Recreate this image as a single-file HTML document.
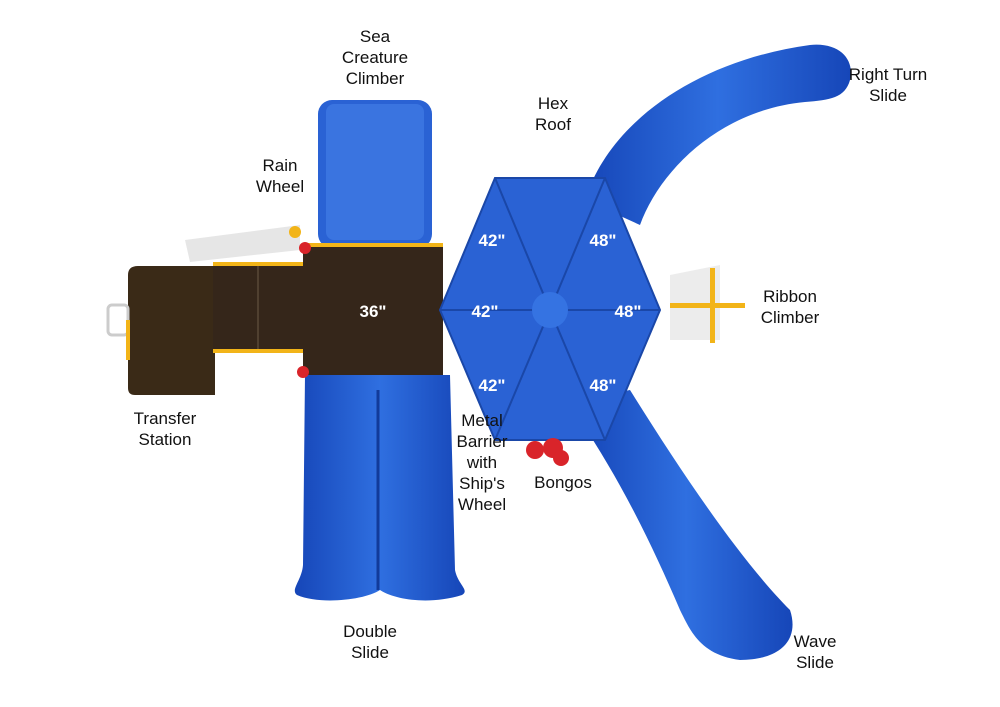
<!DOCTYPE html>
<html><head><style>
body{margin:0;background:#fff;}
svg{display:block}
text{font-family:"Liberation Sans",sans-serif;}
.l{font-size:17px;fill:#111;text-anchor:middle}
.w{font-size:17px;fill:#fff;font-weight:bold;text-anchor:middle}
</style></head><body>
<svg width="1000" height="707" viewBox="0 0 1000 707">
<defs>
<linearGradient id="b" x1="0" x2="1"><stop offset="0" stop-color="#1646b8"/><stop offset=".5" stop-color="#2f6fe0"/><stop offset="1" stop-color="#1646b8"/></linearGradient>
</defs>
<!-- shadows -->
<path d="M185 240 L300 225 L300 250 L190 262Z" fill="#e6e6e6"/>
<path d="M670 275 L720 265 L720 340 L670 340Z" fill="#ececec"/>
<!-- right turn slide -->
<path d="M585 200 C610 120 700 60 810 45 C840 42 855 60 850 80 C845 98 830 100 805 102 C720 110 660 170 640 225Z" fill="url(#b)"/>
<!-- wave slide -->
<path d="M580 400 L630 390 C680 470 740 560 790 610 C800 640 780 660 740 660 C700 655 690 630 680 610 C650 540 620 480 580 420Z" fill="url(#b)"/>
<!-- double slide -->
<path d="M305 375 L450 375 L455 570 C458 585 470 590 462 595 C430 605 395 600 380 590 C365 600 320 605 297 595 C290 590 302 580 303 565Z" fill="url(#b)"/>
<line x1="378" y1="390" x2="378" y2="590" stroke="#123b9a" stroke-width="3"/>
<!-- sea creature climber -->
<rect x="318" y="100" width="114" height="148" rx="14" fill="#2a62d4"/>
<rect x="326" y="104" width="98" height="136" rx="8" fill="#3a74e0"/>
<!-- transfer station -->
<path d="M128 275 Q128 266 138 266 L215 266 L215 395 L135 395 Q128 395 128 388Z" fill="#3a2a17"/>
<rect x="213" y="265" width="95" height="85" fill="#35261a"/>
<line x1="258" y1="265" x2="258" y2="350" stroke="#6b5a45"/>
<rect x="213" y="262" width="95" height="4" fill="#f2b418"/>
<rect x="213" y="349" width="95" height="4" fill="#f2b418"/>
<rect x="108" y="305" width="20" height="30" rx="4" fill="none" stroke="#ccc" stroke-width="3"/>
<rect x="126" y="320" width="4" height="40" fill="#f2b418"/>
<!-- main deck -->
<rect x="303" y="245" width="140" height="130" fill="#35261a"/>
<rect x="303" y="243" width="140" height="4" fill="#f2b418"/>
<circle cx="305" cy="248" r="6" fill="#d9242a"/>
<circle cx="303" cy="372" r="6" fill="#d9242a"/>
<!-- ribbon climber -->
<rect x="670" y="303" width="75" height="5" fill="#f2b418"/>
<rect x="710" y="268" width="5" height="75" fill="#f2b418"/>
<!-- hex roof -->
<polygon points="495,178 605,178 660,310 605,440 495,440 440,310" fill="#2a62d4" stroke="#1a47a8" stroke-width="2"/>
<g stroke="#1a47a8" stroke-width="2">
<line x1="550" y1="310" x2="495" y2="178"/><line x1="550" y1="310" x2="605" y2="178"/>
<line x1="550" y1="310" x2="660" y2="310"/><line x1="550" y1="310" x2="440" y2="310"/>
<line x1="550" y1="310" x2="495" y2="440"/><line x1="550" y1="310" x2="605" y2="440"/>
</g>
<circle cx="550" cy="310" r="18" fill="#3573e2"/>
<!-- bongos -->
<circle cx="535" cy="450" r="9" fill="#d9242a"/><circle cx="553" cy="448" r="10" fill="#d9242a"/><circle cx="561" cy="458" r="8" fill="#d9242a"/>
<circle cx="295" cy="232" r="6" fill="#f2b418"/>
<!-- white labels -->
<text class="w" x="373" y="317">36"</text>
<text class="w" x="492" y="246">42"</text><text class="w" x="603" y="246">48"</text>
<text class="w" x="485" y="317">42"</text><text class="w" x="628" y="317">48"</text>
<text class="w" x="492" y="391">42"</text><text class="w" x="603" y="391">48"</text>
<!-- labels -->
<text class="l" x="375" y="42">Sea</text><text class="l" x="375" y="63">Creature</text><text class="l" x="375" y="84">Climber</text>
<text class="l" x="553" y="109">Hex</text><text class="l" x="553" y="130">Roof</text>
<text class="l" x="888" y="80">Right Turn</text><text class="l" x="888" y="101">Slide</text>
<text class="l" x="280" y="171">Rain</text><text class="l" x="280" y="192">Wheel</text>
<text class="l" x="790" y="302">Ribbon</text><text class="l" x="790" y="323">Climber</text>
<text class="l" x="165" y="424">Transfer</text><text class="l" x="165" y="445">Station</text>
<text class="l" x="482" y="426">Metal</text><text class="l" x="482" y="447">Barrier</text><text class="l" x="482" y="468">with</text><text class="l" x="482" y="489">Ship's</text><text class="l" x="482" y="510">Wheel</text>
<text class="l" x="563" y="488">Bongos</text>
<text class="l" x="370" y="637">Double</text><text class="l" x="370" y="658">Slide</text>
<text class="l" x="815" y="647">Wave</text><text class="l" x="815" y="668">Slide</text>
</svg>
</body></html>
